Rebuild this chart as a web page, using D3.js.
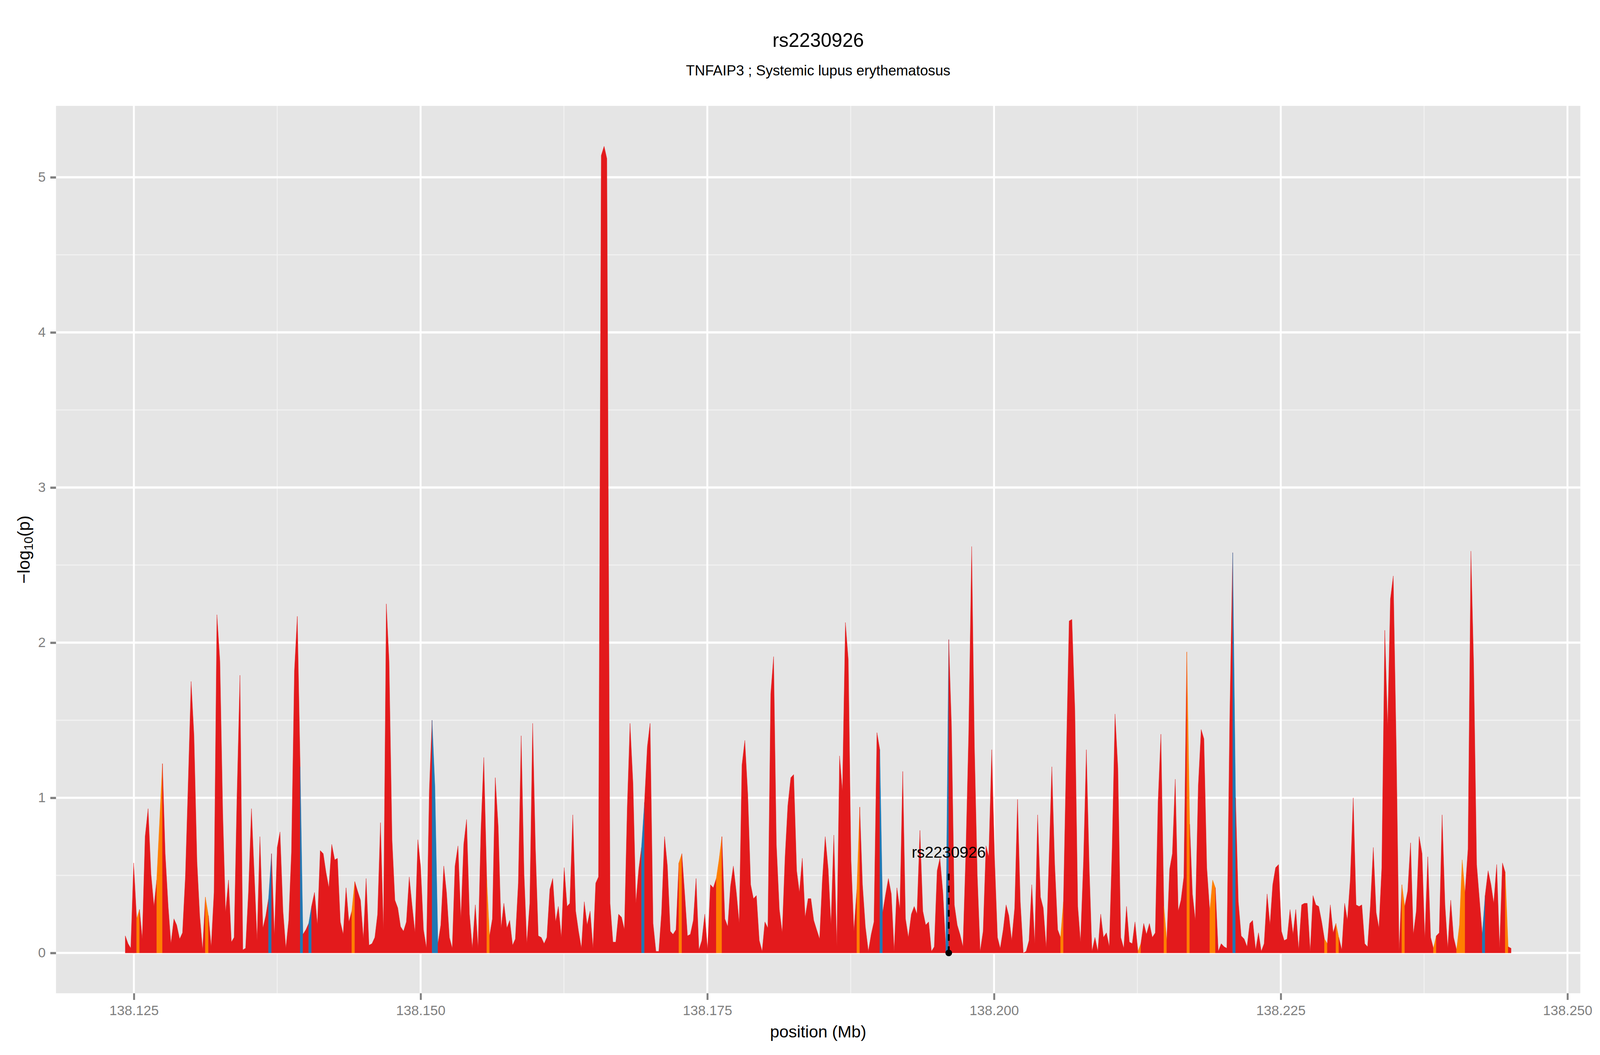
<!DOCTYPE html>
<html>
<head>
<meta charset="utf-8">
<script src="https://cdn.jsdelivr.net/npm/d3@7"></script>
<style>
  html, body { margin: 0; padding: 0; width: 100%; height: 100%; overflow: hidden; background: #fff; }
  #chart svg { display: block; }
  svg text { font-family: "Liberation Sans", Arial, Helvetica, sans-serif; }
</style>
</head>
<body>
<div id="chart"></div>
<script>
// SNP positions (Mb) and -log10(p)
const positions = [
  138.12425, 138.12449, 138.12473, 138.12498, 138.12524, 138.12549, 138.12573, 138.12598, 138.12624, 138.12649,
  138.12675, 138.12699, 138.12749, 138.12773, 138.12799, 138.12823, 138.12849, 138.12873, 138.12899, 138.12924,
  138.12949, 138.12973, 138.12999, 138.13024, 138.13050, 138.13074, 138.13099, 138.13123, 138.13150, 138.13174,
  138.13199, 138.13224, 138.13250, 138.13275, 138.13299, 138.13325, 138.13350, 138.13374, 138.13399, 138.13425,
  138.13450, 138.13474, 138.13499, 138.13525, 138.13550, 138.13574, 138.13599, 138.13625, 138.13650, 138.13674,
  138.13700, 138.13725, 138.13750, 138.13774, 138.13800, 138.13825, 138.13850, 138.13874, 138.13900, 138.13925,
  138.13950, 138.13974, 138.14000, 138.14024, 138.14049, 138.14075, 138.14100, 138.14125, 138.14151, 138.14175,
  138.14200, 138.14225, 138.14251, 138.14275, 138.14300, 138.14325, 138.14350, 138.14375, 138.14400, 138.14426,
  138.14450, 138.14476, 138.14501, 138.14525, 138.14550, 138.14576, 138.14601, 138.14625, 138.14650, 138.14676,
  138.14701, 138.14725, 138.14751, 138.14776, 138.14801, 138.14825, 138.14851, 138.14876, 138.14901, 138.14925,
  138.14951, 138.14976, 138.15000, 138.15025, 138.15051, 138.15076, 138.15100, 138.15125, 138.15151, 138.15176,
  138.15202, 138.15226, 138.15251, 138.15276, 138.15300, 138.15326, 138.15351, 138.15376, 138.15401, 138.15426,
  138.15451, 138.15477, 138.15501, 138.15526, 138.15551, 138.15577, 138.15601, 138.15626, 138.15651, 138.15677,
  138.15702, 138.15726, 138.15752, 138.15777, 138.15802, 138.15826, 138.15852, 138.15877, 138.15902, 138.15926,
  138.15952, 138.15977, 138.16001, 138.16026, 138.16052, 138.16077, 138.16101, 138.16127, 138.16152, 138.16177,
  138.16201, 138.16227, 138.16252, 138.16277, 138.16301, 138.16327, 138.16352, 138.16377, 138.16402, 138.16427,
  138.16452, 138.16478, 138.16503, 138.16527, 138.16551, 138.16575, 138.16600, 138.16624, 138.16652, 138.16677,
  138.16702, 138.16726, 138.16752, 138.16777, 138.16802, 138.16826, 138.16852, 138.16877, 138.16902, 138.16926,
  138.16952, 138.16977, 138.17001, 138.17027, 138.17052, 138.17077, 138.17101, 138.17127, 138.17152, 138.17177,
  138.17201, 138.17227, 138.17252, 138.17278, 138.17302, 138.17327, 138.17352, 138.17378, 138.17402, 138.17427,
  138.17452, 138.17478, 138.17502, 138.17527, 138.17552, 138.17578, 138.17602, 138.17627, 138.17653, 138.17678,
  138.17702, 138.17727, 138.17753, 138.17778, 138.17802, 138.17827, 138.17853, 138.17878, 138.17902, 138.17928,
  138.17953, 138.17978, 138.18002, 138.18028, 138.18053, 138.18078, 138.18102, 138.18128, 138.18153, 138.18178,
  138.18202, 138.18228, 138.18253, 138.18279, 138.18303, 138.18328, 138.18353, 138.18379, 138.18403, 138.18428,
  138.18453, 138.18479, 138.18503, 138.18528, 138.18554, 138.18578, 138.18603, 138.18629, 138.18653, 138.18678,
  138.18704, 138.18729, 138.18753, 138.18778, 138.18804, 138.18829, 138.18853, 138.18878, 138.18904, 138.18929,
  138.18953, 138.18979, 138.19004, 138.19029, 138.19055, 138.19079, 138.19104, 138.19129, 138.19153, 138.19179,
  138.19204, 138.19228, 138.19253, 138.19279, 138.19304, 138.19328, 138.19354, 138.19379, 138.19404, 138.19430,
  138.19454, 138.19479, 138.19504, 138.19528, 138.19554, 138.19579, 138.19605, 138.19629, 138.19654, 138.19679,
  138.19703, 138.19729, 138.19754, 138.19779, 138.19805, 138.19829, 138.19854, 138.19879, 138.19905, 138.19930,
  138.19954, 138.19980, 138.20005, 138.20030, 138.20054, 138.20080, 138.20105, 138.20129, 138.20154, 138.20180,
  138.20205, 138.20229, 138.20255, 138.20280, 138.20305, 138.20329, 138.20355, 138.20380, 138.20405, 138.20429,
  138.20455, 138.20480, 138.20504, 138.20529, 138.20555, 138.20580, 138.20605, 138.20631, 138.20655, 138.20679,
  138.20705, 138.20730, 138.20754, 138.20780, 138.20805, 138.20830, 138.20854, 138.20880, 138.20905, 138.20930,
  138.20954, 138.20980, 138.21005, 138.21030, 138.21055, 138.21080, 138.21105, 138.21131, 138.21155, 138.21180,
  138.21205, 138.21229, 138.21255, 138.21280, 138.21305, 138.21329, 138.21355, 138.21380, 138.21406, 138.21430,
  138.21455, 138.21481, 138.21506, 138.21531, 138.21555, 138.21580, 138.21606, 138.21630, 138.21655, 138.21681,
  138.21706, 138.21730, 138.21755, 138.21781, 138.21806, 138.21830, 138.21855, 138.21881, 138.21906, 138.21930,
  138.21955, 138.21981, 138.22006, 138.22030, 138.22055, 138.22081, 138.22106, 138.22130, 138.22155, 138.22181,
  138.22206, 138.22230, 138.22255, 138.22281, 138.22306, 138.22330, 138.22355, 138.22381, 138.22406, 138.22430,
  138.22455, 138.22481, 138.22506, 138.22530, 138.22555, 138.22581, 138.22607, 138.22631, 138.22656, 138.22682,
  138.22706, 138.22731, 138.22757, 138.22781, 138.22806, 138.22831, 138.22857, 138.22881, 138.22906, 138.22932,
  138.22957, 138.22981, 138.23006, 138.23032, 138.23057, 138.23081, 138.23106, 138.23132, 138.23157, 138.23183,
  138.23207, 138.23232, 138.23257, 138.23281, 138.23307, 138.23332, 138.23356, 138.23381, 138.23407, 138.23432,
  138.23456, 138.23481, 138.23507, 138.23532, 138.23556, 138.23581, 138.23607, 138.23632, 138.23656, 138.23682,
  138.23707, 138.23732, 138.23756, 138.23782, 138.23807, 138.23831, 138.23856, 138.23882, 138.23907, 138.23932,
  138.23956, 138.23982, 138.24007, 138.24033, 138.24058, 138.24082, 138.24107, 138.24133, 138.24158, 138.24182,
  138.24208, 138.24233, 138.24257, 138.24282, 138.24308, 138.24333, 138.24357, 138.24383, 138.24408, 138.24433,
  138.24457, 138.24483, 138.24508
];

const logP = [
  0.11, 0.06, 0.03, 0.58, 0.22, 0.28, 0.09, 0.75, 0.93, 0.51,
  0.30, 0.47, 1.22, 0.64, 0.30, 0.06, 0.22, 0.18, 0.09, 0.13,
  0.49, 1.08, 1.75, 1.40, 0.59, 0.24, 0.02, 0.36, 0.24, 0.04,
  0.39, 2.18, 1.88, 0.90, 0.26, 0.47, 0.07, 0.10, 1.01, 1.79,
  0.02, 0.03, 0.39, 0.93, 0.50, 0.08, 0.75, 0.16, 0.24, 0.35,
  0.64, 0.11, 0.68, 0.78, 0.27, 0.03, 0.21, 0.65, 1.82, 2.17,
  1.20, 0.12, 0.15, 0.19, 0.30, 0.39, 0.18, 0.66, 0.64, 0.52,
  0.42, 0.70, 0.60, 0.61, 0.20, 0.12, 0.42, 0.20, 0.27, 0.46,
  0.40, 0.34, 0.09, 0.48, 0.05, 0.06, 0.10, 0.25, 0.84, 0.14,
  2.25, 1.88, 0.73, 0.34, 0.29, 0.17, 0.14, 0.20, 0.49, 0.31,
  0.13, 0.73, 0.56, 0.15, 0.03, 1.05, 1.50, 1.07, 0.06, 0.18,
  0.56, 0.39, 0.10, 0.03, 0.56, 0.69, 0.22, 0.70, 0.86, 0.25,
  0.03, 0.31, 0.03, 0.79, 1.26, 0.47, 0.11, 0.22, 1.13, 0.81,
  0.16, 0.32, 0.16, 0.21, 0.05, 0.09, 0.45, 1.40, 0.51, 0.06,
  0.32, 1.48, 0.68, 0.11, 0.10, 0.06, 0.10, 0.41, 0.48, 0.20,
  0.30, 0.10, 0.55, 0.30, 0.32, 0.89, 0.27, 0.14, 0.03, 0.33,
  0.18, 0.27, 0.03, 0.45, 0.49, 5.14, 5.20, 5.12, 0.32, 0.07,
  0.07, 0.25, 0.23, 0.15, 0.94, 1.48, 1.09, 0.32, 0.54, 0.68,
  0.97, 1.33, 1.48, 0.19, 0.01, 0.01, 0.26, 0.75, 0.56, 0.14,
  0.12, 0.15, 0.58, 0.64, 0.39, 0.11, 0.12, 0.21, 0.48, 0.02,
  0.08, 0.25, 0.02, 0.44, 0.42, 0.48, 0.60, 0.75, 0.22, 0.17,
  0.43, 0.56, 0.39, 0.19, 1.21, 1.37, 1.02, 0.44, 0.35, 0.37,
  0.08, 0.01, 0.20, 0.16, 1.67, 1.91, 0.70, 0.28, 0.13, 0.62,
  0.95, 1.13, 1.15, 0.53, 0.39, 0.61, 0.23, 0.35, 0.35, 0.21,
  0.15, 0.09, 0.47, 0.75, 0.54, 0.18, 0.76, 0.04, 1.27, 1.04,
  2.13, 1.89, 0.60, 0.14, 0.41, 0.94, 0.44, 0.17, 0.01, 0.12,
  0.20, 1.42, 1.31, 0.26, 0.38, 0.48, 0.38, 0.01, 0.42, 0.28,
  1.17, 0.22, 0.10, 0.25, 0.30, 0.25, 0.79, 0.27, 0.18, 0.20,
  0.01, 0.04, 0.53, 0.61, 0.39, 0.04, 2.02, 1.46, 0.31, 0.18,
  0.12, 0.04, 0.64, 1.41, 2.62, 1.33, 0.50, 0.01, 0.14, 0.69,
  0.62, 1.31, 0.60, 0.10, 0.03, 0.15, 0.31, 0.24, 0.08, 0.29,
  0.99, 0.33, 0.00, 0.01, 0.08, 0.44, 0.06, 0.89, 0.36, 0.29,
  0.03, 0.62, 1.20, 0.57, 0.15, 0.10, 0.33, 1.30, 2.14, 2.15,
  1.56, 0.30, 0.07, 0.59, 1.31, 0.55, 0.01, 0.10, 0.01, 0.25,
  0.10, 0.13, 0.04, 0.68, 1.54, 1.19, 0.10, 0.03, 0.30, 0.07,
  0.06, 0.20, 0.01, 0.06, 0.19, 0.12, 0.19, 0.10, 0.13, 0.97,
  1.41, 0.30, 0.08, 0.54, 0.64, 1.12, 0.27, 0.34, 0.49, 1.94,
  0.83, 0.38, 0.21, 1.08, 1.44, 1.38, 0.55, 0.27, 0.47, 0.42,
  0.01, 0.06, 0.04, 0.03, 1.50, 2.58, 1.00, 0.33, 0.11, 0.09,
  0.04, 0.19, 0.21, 0.02, 0.13, 0.01, 0.06, 0.38, 0.18, 0.44,
  0.55, 0.57, 0.14, 0.08, 0.09, 0.28, 0.12, 0.28, 0.02, 0.31,
  0.32, 0.32, 0.01, 0.37, 0.31, 0.30, 0.20, 0.09, 0.06, 0.31,
  0.13, 0.19, 0.10, 0.02, 0.32, 0.21, 0.47, 1.00, 0.31, 0.30,
  0.31, 0.06, 0.04, 0.30, 0.68, 0.26, 0.16, 0.55, 2.08, 1.45,
  2.28, 2.43, 1.33, 0.01, 0.44, 0.30, 0.40, 0.71, 0.12, 0.27,
  0.75, 0.64, 0.09, 0.62, 0.10, 0.03, 0.11, 0.13, 0.89, 0.31,
  0.03, 0.34, 0.10, 0.02, 0.18, 0.60, 0.39, 0.67, 2.59, 1.86,
  0.57, 0.34, 0.12, 0.37, 0.53, 0.44, 0.32, 0.57, 0.03, 0.58,
  0.52, 0.04, 0.03
];

// SNPs in the middle and high LD classes (the rest are red)
const orangeSnps = [
  138.12549, 138.12749, 138.13150, 138.14426, 138.15601, 138.17278, 138.17602, 138.17627,
  138.18829, 138.20605, 138.21280, 138.21506, 138.21706, 138.21906, 138.21930, 138.22906,
  138.23006, 138.23581, 138.23856, 138.24058, 138.24082, 138.24107, 138.24483
];
const blueSnps = [
  138.13700, 138.13974, 138.14049, 138.15125, 138.15151, 138.16952, 138.19029, 138.19605,
  138.22106, 138.24282
];

const xTicks = [138.125, 138.150, 138.175, 138.200, 138.225, 138.250];
const yTicks = [0, 1, 2, 3, 4, 5];

const leadSnp = { name: "rs2230926", pos: 138.19605, lineTop: 0.52, labelY: 0.65 };
const titleText = "rs2230926";
const subtitleText = "TNFAIP3 ; Systemic lupus erythematosus";

const ldColors = { red: "#E31A1C", orange: "#FF7F00", blue: "#1F78B4" };

// layout is specified for a 4800x2700 page and scaled to the real viewport
const width = window.innerWidth || 4800;
const height = window.innerHeight || 2700;
const sx = width / 4800, sy = height / 2700;
const fs = v => v * sx;   // font sizes and stroke widths

const margin = { top: 271 * sy, right: 59 * sx, bottom: 158 * sy, left: 168 * sx };
const panelW = width - margin.left - margin.right;
const panelH = height - margin.top - margin.bottom;

const orangeSet = new Set(orangeSnps);
const blueSet = new Set(blueSnps);
const snps = positions.map((p, i) => ({
    pos: p,
    logp: logP[i],
    cls: orangeSet.has(p) ? "orange" : blueSet.has(p) ? "blue" : "red"
}));

// ggplot-like 5% expansion
const xExt = d3.extent(positions);
const xPad = (xExt[1] - xExt[0]) * 0.05;
const x = d3.scaleLinear().domain([xExt[0] - xPad, xExt[1] + xPad]).range([0, panelW]);
const yMax = d3.max(logP);
const yPad = yMax * 0.05;
const y = d3.scaleLinear().domain([-yPad, yMax + yPad]).range([panelH, 0]);

const svg = d3.select("#chart")
    .append("svg")
    .attr("width", width)
    .attr("height", height);

svg.append("rect").attr("width", width).attr("height", height).attr("fill", "#fff");

const g = svg.append("g")
    .attr("transform", `translate(${margin.left},${margin.top})`);

// panel + grid
g.append("rect")
    .attr("width", panelW)
    .attr("height", panelH)
    .attr("fill", "#E5E5E5");

const xMinor = xTicks.slice(1).map((t, i) => (t + xTicks[i]) / 2);
const yMinor = yTicks.slice(1).map((t, i) => (t + yTicks[i]) / 2);

g.selectAll(".x-minor").data(xMinor).enter().append("line")
    .attr("x1", d => x(d)).attr("x2", d => x(d))
    .attr("y1", 0).attr("y2", panelH)
    .attr("stroke", "#F2F2F2").attr("stroke-width", fs(2.8));

g.selectAll(".y-minor").data(yMinor).enter().append("line")
    .attr("x1", 0).attr("x2", panelW)
    .attr("y1", d => y(d)).attr("y2", d => y(d))
    .attr("stroke", "#F2F2F2").attr("stroke-width", 2.8 * sy);

g.selectAll(".x-major").data(xTicks).enter().append("line")
    .attr("x1", d => x(d)).attr("x2", d => x(d))
    .attr("y1", 0).attr("y2", panelH)
    .attr("stroke", "#fff").attr("stroke-width", fs(5.7));

g.selectAll(".y-major").data(yTicks).enter().append("line")
    .attr("x1", 0).attr("x2", panelW)
    .attr("y1", d => y(d)).attr("y2", d => y(d))
    .attr("stroke", "#fff").attr("stroke-width", 5.7 * sy);

// area, split into runs: the interval leading up to a SNP takes that SNP's colour
const runs = [];
for (let i = 1; i < snps.length; i++) {
    const last = runs[runs.length - 1];
    if (last && last.cls === snps[i].cls) last.pts.push(snps[i]);
    else runs.push({ cls: snps[i].cls, pts: [snps[i - 1], snps[i]] });
}

const area = d3.area()
    .x(d => x(d.pos))
    .y0(y(0))
    .y1(d => y(d.logp));

g.selectAll(".ld-area")
    .data(runs)
    .enter()
    .append("path")
    .attr("class", "ld-area")
    .attr("d", d => area(d.pts))
    .attr("fill", d => ldColors[d.cls])
    .attr("stroke", d => ldColors[d.cls])
    .attr("stroke-width", fs(0.8));

// lead SNP marker
g.append("line")
    .attr("x1", x(leadSnp.pos)).attr("x2", x(leadSnp.pos))
    .attr("y1", y(0)).attr("y2", y(leadSnp.lineTop))
    .attr("stroke", "#000")
    .attr("stroke-width", fs(5.5))
    .attr("stroke-dasharray", `${17 * sy},${14 * sy}`);

g.append("circle")
    .attr("cx", x(leadSnp.pos))
    .attr("cy", y(0))
    .attr("r", 10 * Math.min(sx, sy))
    .attr("fill", "#000");

g.append("text")
    .attr("x", x(leadSnp.pos))
    .attr("y", y(leadSnp.labelY))
    .attr("dy", "0.35em")
    .attr("text-anchor", "middle")
    .style("font-size", `${fs(47)}px`)
    .attr("fill", "#000")
    .text(leadSnp.name);

// axes
const xAxis = g.append("g")
    .attr("transform", `translate(0,${panelH})`)
    .call(d3.axisBottom(x).tickValues(xTicks).tickFormat(d3.format(".3f"))
        .tickSize(17 * sy).tickPadding(14 * sy));
xAxis.select(".domain").remove();
xAxis.selectAll(".tick line").attr("stroke", "#7F7F7F").attr("stroke-width", fs(5.7));
xAxis.selectAll(".tick text").attr("fill", "#7F7F7F").style("font-size", `${fs(41)}px`);

const yAxis = g.append("g")
    .call(d3.axisLeft(y).tickValues(yTicks).tickFormat(d3.format("d"))
        .tickSize(17 * sx).tickPadding(14 * sx));
yAxis.select(".domain").remove();
yAxis.selectAll(".tick line").attr("stroke", "#7F7F7F").attr("stroke-width", 5.7 * sy);
yAxis.selectAll(".tick text").attr("fill", "#7F7F7F").style("font-size", `${fs(41)}px`);

// axis titles
svg.append("text")
    .attr("x", margin.left + panelW / 2)
    .attr("y", 2655 * sy)
    .attr("text-anchor", "middle")
    .style("font-size", `${fs(50)}px`)
    .attr("fill", "#000")
    .text("position (Mb)");

const yTitle = svg.append("text")
    .attr("transform", `translate(${89 * sx},${margin.top + panelH / 2}) rotate(-90)`)
    .attr("text-anchor", "middle")
    .style("font-size", `${fs(52)}px`)
    .attr("fill", "#000");
yTitle.append("tspan").text("\u2212log");
yTitle.append("tspan").attr("dy", "0.25em").style("font-size", `${fs(37)}px`).text("10");
yTitle.append("tspan").attr("dy", "-0.18em").text("(p)");

// title
svg.append("text")
    .attr("x", margin.left + panelW / 2)
    .attr("y", 120 * sy)
    .attr("text-anchor", "middle")
    .style("font-size", `${fs(58)}px`)
    .attr("fill", "#000")
    .text(titleText);

svg.append("text")
    .attr("x", margin.left + panelW / 2)
    .attr("y", 193 * sy)
    .attr("text-anchor", "middle")
    .style("font-size", `${fs(43)}px`)
    .attr("fill", "#000")
    .text(subtitleText);
</script>
</body>
</html>
